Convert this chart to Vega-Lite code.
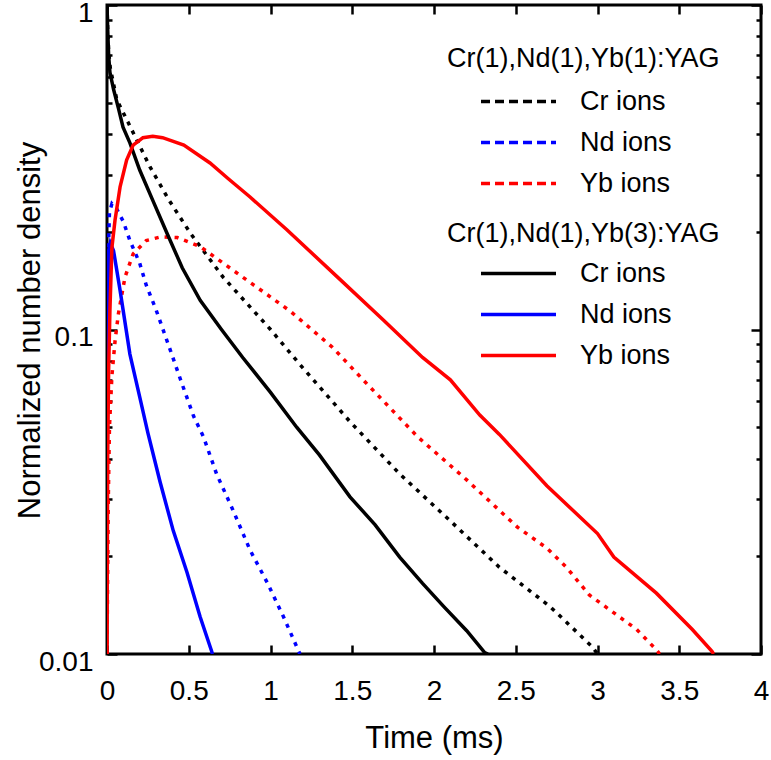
{
  "$schema": "https://vega.github.io/schema/vega-lite/v6.json",
  "autosize": "none",
  "width": 654,
  "height": 649,
  "padding": {"left": 107, "top": 5, "right": 10, "bottom": 106},
  "background": "white",
  "config": {
    "font": "Liberation Sans",
    "view": {"stroke": "black", "strokeWidth": 3},
    "axis": {"labelColor": "black", "titleColor": "black", "ticks": true, "tickColor": "#000000", "tickOpacity": 1, "grid": false, "domain": false, "zindex": 1}
  },
  "data": {"values": [
    {"s":"A","ion":"Cr ions","t":0,"v":1},{"s":"A","ion":"Cr ions","t":0.004,"v":0.85},{"s":"A","ion":"Cr ions","t":0.01,"v":0.72},{"s":"A","ion":"Cr ions","t":0.02,"v":0.64},{"s":"A","ion":"Cr ions","t":0.06,"v":0.51},{"s":"A","ion":"Cr ions","t":0.128,"v":0.436},{"s":"A","ion":"Cr ions","t":0.263,"v":0.317},{"s":"A","ion":"Cr ions","t":0.38,"v":0.25},{"s":"A","ion":"Cr ions","t":0.51,"v":0.198},{"s":"A","ion":"Cr ions","t":0.71,"v":0.145},{"s":"A","ion":"Cr ions","t":1.0,"v":0.1},{"s":"A","ion":"Cr ions","t":1.18,"v":0.078},{"s":"A","ion":"Cr ions","t":1.486,"v":0.052},{"s":"A","ion":"Cr ions","t":1.79,"v":0.0359},{"s":"A","ion":"Cr ions","t":2.1,"v":0.0257},{"s":"A","ion":"Cr ions","t":2.4,"v":0.0185},{"s":"A","ion":"Cr ions","t":2.71,"v":0.014},{"s":"A","ion":"Cr ions","t":2.97,"v":0.0105},{"s":"A","ion":"Cr ions","t":3.0,"v":0.01},
    {"s":"A","ion":"Nd ions","t":0,"v":0.05},{"s":"A","ion":"Nd ions","t":0.005,"v":0.15},{"s":"A","ion":"Nd ions","t":0.015,"v":0.23},{"s":"A","ion":"Nd ions","t":0.03,"v":0.244},{"s":"A","ion":"Nd ions","t":0.06,"v":0.235},{"s":"A","ion":"Nd ions","t":0.1,"v":0.215},{"s":"A","ion":"Nd ions","t":0.14,"v":0.188},{"s":"A","ion":"Nd ions","t":0.2,"v":0.16},{"s":"A","ion":"Nd ions","t":0.24,"v":0.137},{"s":"A","ion":"Nd ions","t":0.3,"v":0.115},{"s":"A","ion":"Nd ions","t":0.385,"v":0.087},{"s":"A","ion":"Nd ions","t":0.45,"v":0.07},{"s":"A","ion":"Nd ions","t":0.53,"v":0.054},{"s":"A","ion":"Nd ions","t":0.59,"v":0.0467},{"s":"A","ion":"Nd ions","t":0.67,"v":0.0359},{"s":"A","ion":"Nd ions","t":0.77,"v":0.0278},{"s":"A","ion":"Nd ions","t":0.875,"v":0.0209},{"s":"A","ion":"Nd ions","t":0.98,"v":0.0166},{"s":"A","ion":"Nd ions","t":1.08,"v":0.013},{"s":"A","ion":"Nd ions","t":1.18,"v":0.01},
    {"s":"A","ion":"Yb ions","t":0,"v":0.01},{"s":"A","ion":"Yb ions","t":0.008,"v":0.03},{"s":"A","ion":"Yb ions","t":0.015,"v":0.05},{"s":"A","ion":"Yb ions","t":0.03,"v":0.072},{"s":"A","ion":"Yb ions","t":0.05,"v":0.093},{"s":"A","ion":"Yb ions","t":0.07,"v":0.112},{"s":"A","ion":"Yb ions","t":0.11,"v":0.145},{"s":"A","ion":"Yb ions","t":0.16,"v":0.171},{"s":"A","ion":"Yb ions","t":0.24,"v":0.188},{"s":"A","ion":"Yb ions","t":0.33,"v":0.193},{"s":"A","ion":"Yb ions","t":0.43,"v":0.192},{"s":"A","ion":"Yb ions","t":0.57,"v":0.18},{"s":"A","ion":"Yb ions","t":0.83,"v":0.145},{"s":"A","ion":"Yb ions","t":1.12,"v":0.114},{"s":"A","ion":"Yb ions","t":1.38,"v":0.088},{"s":"A","ion":"Yb ions","t":1.59,"v":0.068},{"s":"A","ion":"Yb ions","t":1.9,"v":0.0467},{"s":"A","ion":"Yb ions","t":2.2,"v":0.0344},{"s":"A","ion":"Yb ions","t":2.51,"v":0.0246},{"s":"A","ion":"Yb ions","t":2.69,"v":0.0212},{"s":"A","ion":"Yb ions","t":2.81,"v":0.0185},{"s":"A","ion":"Yb ions","t":2.95,"v":0.0152},{"s":"A","ion":"Yb ions","t":3.24,"v":0.0119},{"s":"A","ion":"Yb ions","t":3.36,"v":0.0103},{"s":"A","ion":"Yb ions","t":3.38,"v":0.01},
    {"s":"B","ion":"Cr ions","t":0,"v":1},{"s":"B","ion":"Cr ions","t":0.004,"v":0.85},{"s":"B","ion":"Cr ions","t":0.01,"v":0.7},{"s":"B","ion":"Cr ions","t":0.018,"v":0.62},{"s":"B","ion":"Cr ions","t":0.04,"v":0.55},{"s":"B","ion":"Cr ions","t":0.07,"v":0.48},{"s":"B","ion":"Cr ions","t":0.098,"v":0.42},{"s":"B","ion":"Cr ions","t":0.14,"v":0.376},{"s":"B","ion":"Cr ions","t":0.2,"v":0.31},{"s":"B","ion":"Cr ions","t":0.28,"v":0.25},{"s":"B","ion":"Cr ions","t":0.367,"v":0.198},{"s":"B","ion":"Cr ions","t":0.46,"v":0.155},{"s":"B","ion":"Cr ions","t":0.57,"v":0.123},{"s":"B","ion":"Cr ions","t":0.7,"v":0.1},{"s":"B","ion":"Cr ions","t":0.83,"v":0.082},{"s":"B","ion":"Cr ions","t":1.0,"v":0.064},{"s":"B","ion":"Cr ions","t":1.16,"v":0.05},{"s":"B","ion":"Cr ions","t":1.3,"v":0.041},{"s":"B","ion":"Cr ions","t":1.486,"v":0.0305},{"s":"B","ion":"Cr ions","t":1.64,"v":0.025},{"s":"B","ion":"Cr ions","t":1.79,"v":0.0199},{"s":"B","ion":"Cr ions","t":1.93,"v":0.0165},{"s":"B","ion":"Cr ions","t":2.06,"v":0.014},{"s":"B","ion":"Cr ions","t":2.2,"v":0.0118},{"s":"B","ion":"Cr ions","t":2.31,"v":0.0101},{"s":"B","ion":"Cr ions","t":2.33,"v":0.01},
    {"s":"B","ion":"Nd ions","t":0,"v":0.02},{"s":"B","ion":"Nd ions","t":0.004,"v":0.12},{"s":"B","ion":"Nd ions","t":0.01,"v":0.175},{"s":"B","ion":"Nd ions","t":0.02,"v":0.185},{"s":"B","ion":"Nd ions","t":0.04,"v":0.175},{"s":"B","ion":"Nd ions","t":0.08,"v":0.132},{"s":"B","ion":"Nd ions","t":0.14,"v":0.084},{"s":"B","ion":"Nd ions","t":0.2,"v":0.062},{"s":"B","ion":"Nd ions","t":0.25,"v":0.048},{"s":"B","ion":"Nd ions","t":0.324,"v":0.034},{"s":"B","ion":"Nd ions","t":0.405,"v":0.024},{"s":"B","ion":"Nd ions","t":0.49,"v":0.0178},{"s":"B","ion":"Nd ions","t":0.57,"v":0.013},{"s":"B","ion":"Nd ions","t":0.64,"v":0.0102},{"s":"B","ion":"Nd ions","t":0.645,"v":0.01},
    {"s":"B","ion":"Yb ions","t":0,"v":0.01},{"s":"B","ion":"Yb ions","t":0.004,"v":0.04},{"s":"B","ion":"Yb ions","t":0.01,"v":0.075},{"s":"B","ion":"Yb ions","t":0.018,"v":0.115},{"s":"B","ion":"Yb ions","t":0.03,"v":0.179},{"s":"B","ion":"Yb ions","t":0.049,"v":0.217},{"s":"B","ion":"Yb ions","t":0.08,"v":0.275},{"s":"B","ion":"Yb ions","t":0.12,"v":0.333},{"s":"B","ion":"Yb ions","t":0.16,"v":0.37},{"s":"B","ion":"Yb ions","t":0.22,"v":0.39},{"s":"B","ion":"Yb ions","t":0.28,"v":0.394},{"s":"B","ion":"Yb ions","t":0.34,"v":0.39},{"s":"B","ion":"Yb ions","t":0.47,"v":0.37},{"s":"B","ion":"Yb ions","t":0.63,"v":0.326},{"s":"B","ion":"Yb ions","t":0.74,"v":0.292},{"s":"B","ion":"Yb ions","t":0.875,"v":0.256},{"s":"B","ion":"Yb ions","t":1.1,"v":0.203},{"s":"B","ion":"Yb ions","t":1.41,"v":0.145},{"s":"B","ion":"Yb ions","t":1.69,"v":0.107},{"s":"B","ion":"Yb ions","t":1.93,"v":0.082},{"s":"B","ion":"Yb ions","t":2.1,"v":0.07},{"s":"B","ion":"Yb ions","t":2.28,"v":0.0545},{"s":"B","ion":"Yb ions","t":2.4,"v":0.0475},{"s":"B","ion":"Yb ions","t":2.69,"v":0.033},{"s":"B","ion":"Yb ions","t":3.0,"v":0.0235},{"s":"B","ion":"Yb ions","t":3.1,"v":0.0199},{"s":"B","ion":"Yb ions","t":3.36,"v":0.0154},{"s":"B","ion":"Yb ions","t":3.58,"v":0.0119},{"s":"B","ion":"Yb ions","t":3.7,"v":0.0102},{"s":"B","ion":"Yb ions","t":3.71,"v":0.01}
  ]},
  "layer": [
    {
      "transform": [{"filter": "datum.s == 'A'"}],
      "mark": {"type": "line", "strokeWidth": 3.5, "strokeDash": [4, 6], "clip": true},
      "encoding": {
        "x": {"field": "t", "type": "quantitative", "scale": {"domain": [0, 4], "nice": false},
          "axis": {"orient": "bottom", "values": [0,0.5,1,1.5,2,2.5,3,3.5,4], "format": "~g", "title": "Time (ms)", "offset": -9, "tickSize": 9, "tickWidth": 2.5,
            "labelFontSize": 28, "labelPadding": 23, "labelFlush": false, "labelOverlap": false, "labelBound": false,
            "titleFontSize": 31, "titleFontWeight": "normal", "titleX": 327, "titleY": 93, "titleBaseline": "middle"}},
        "y": {"field": "v", "type": "quantitative", "scale": {"type": "log", "domain": [0.01, 1], "nice": false},
          "axis": {"orient": "left", "values": [0.01,0.1,1], "offset": -10, "tickSize": 10,
            "labelExpr": "datum.value == 0.01 ? '0.01' : datum.value == 0.1 ? '0.1' : '1'",
            "tickWidth": 2.5, "labelFontSize": 28, "labelPadding": 14, "labelOffset": 8, "labelFlush": false, "labelOverlap": false, "labelBound": false,
            "title": "Normalized number density", "titleFontSize": 31, "titleFontWeight": "normal", "titleX": -87, "titleY": 325, "titleAngle": -90, "titleAlign": "center", "titleBaseline": "middle"}},
        "color": {"field": "ion", "type": "nominal",
          "scale": {"domain": ["Cr ions", "Nd ions", "Yb ions"], "range": ["#000000", "#0000ff", "#ff0000"]},
          "legend": {"title": "Cr(1),Nd(1),Yb(1):YAG", "orient": "none", "legendX": 340, "legendY": 41,
            "symbolType": "M-3.75,0H3.75", "symbolSize": 400, "symbolStrokeWidth": 3.5, "symbolDash": [9, 5], "symbolOffset": 58,
            "labelFontSize": 27, "labelOffset": 48, "labelColor": "black", "titleColor": "black", "titleFontSize": 27, "titleFontWeight": "normal",
            "titleLimit": 400, "titlePadding": 15, "rowPadding": 13, "padding": 0}}
      }
    },
    {
      "transform": [{"filter": "datum.s == 'B'"}],
      "mark": {"type": "line", "strokeWidth": 3.5, "clip": true},
      "encoding": {
        "x": {"field": "t", "type": "quantitative",
          "axis": {"orient": "top", "values": [0,0.5,1,1.5,2,2.5,3,3.5,4], "labels": false, "title": null, "offset": -9, "tickSize": 9, "tickWidth": 2.5}},
        "y": {"field": "v", "type": "quantitative",
          "axis": {"orient": "right", "values": [0.01,0.1,1], "labels": false, "title": null, "offset": -10, "tickSize": 10, "tickWidth": 2.5}},
        "color": {"field": "ion", "type": "nominal",
          "scale": {"domain": ["Cr ions", "Nd ions", "Yb ions"], "range": ["#000000", "#0000ff", "#ff0000"]},
          "legend": {"title": "Cr(1),Nd(1),Yb(3):YAG", "orient": "none", "legendX": 340, "legendY": 216,
            "symbolType": "M-3.75,0H3.75", "symbolSize": 400, "symbolStrokeWidth": 3.5, "symbolOffset": 58,
            "labelFontSize": 27, "labelOffset": 48, "labelColor": "black", "titleColor": "black", "titleFontSize": 27, "titleFontWeight": "normal",
            "titleLimit": 400, "titlePadding": 12, "rowPadding": 13, "padding": 0}}
      }
    },
    {
      "transform": [{"filter": "datum.s == 'B' && datum.ion == 'Cr ions'"}],
      "mark": {"type": "line", "strokeOpacity": 0},
      "encoding": {
        "x": {"field": "t", "type": "quantitative", "axis": null},
        "y": {"field": "v", "type": "quantitative",
          "axis": {"orient": "left", "values": [0.02,0.03,0.04,0.05,0.06,0.07,0.08,0.09,0.2,0.3,0.4,0.5,0.6,0.7,0.8,0.9], "labels": false, "title": null, "offset": -5, "tickSize": 5, "tickWidth": 2.5}}
      }
    },
    {
      "transform": [{"filter": "datum.s == 'B' && datum.ion == 'Cr ions'"}],
      "mark": {"type": "line", "strokeOpacity": 0},
      "encoding": {
        "x": {"field": "t", "type": "quantitative", "axis": null},
        "y": {"field": "v", "type": "quantitative",
          "axis": {"orient": "right", "values": [0.02,0.03,0.04,0.05,0.06,0.07,0.08,0.09,0.2,0.3,0.4,0.5,0.6,0.7,0.8,0.9], "labels": false, "title": null, "offset": -5, "tickSize": 5, "tickWidth": 2.5}}
      }
    }
  ],
  "resolve": {"scale": {"color": "independent"}, "axis": {"x": "independent", "y": "independent"}}
}
